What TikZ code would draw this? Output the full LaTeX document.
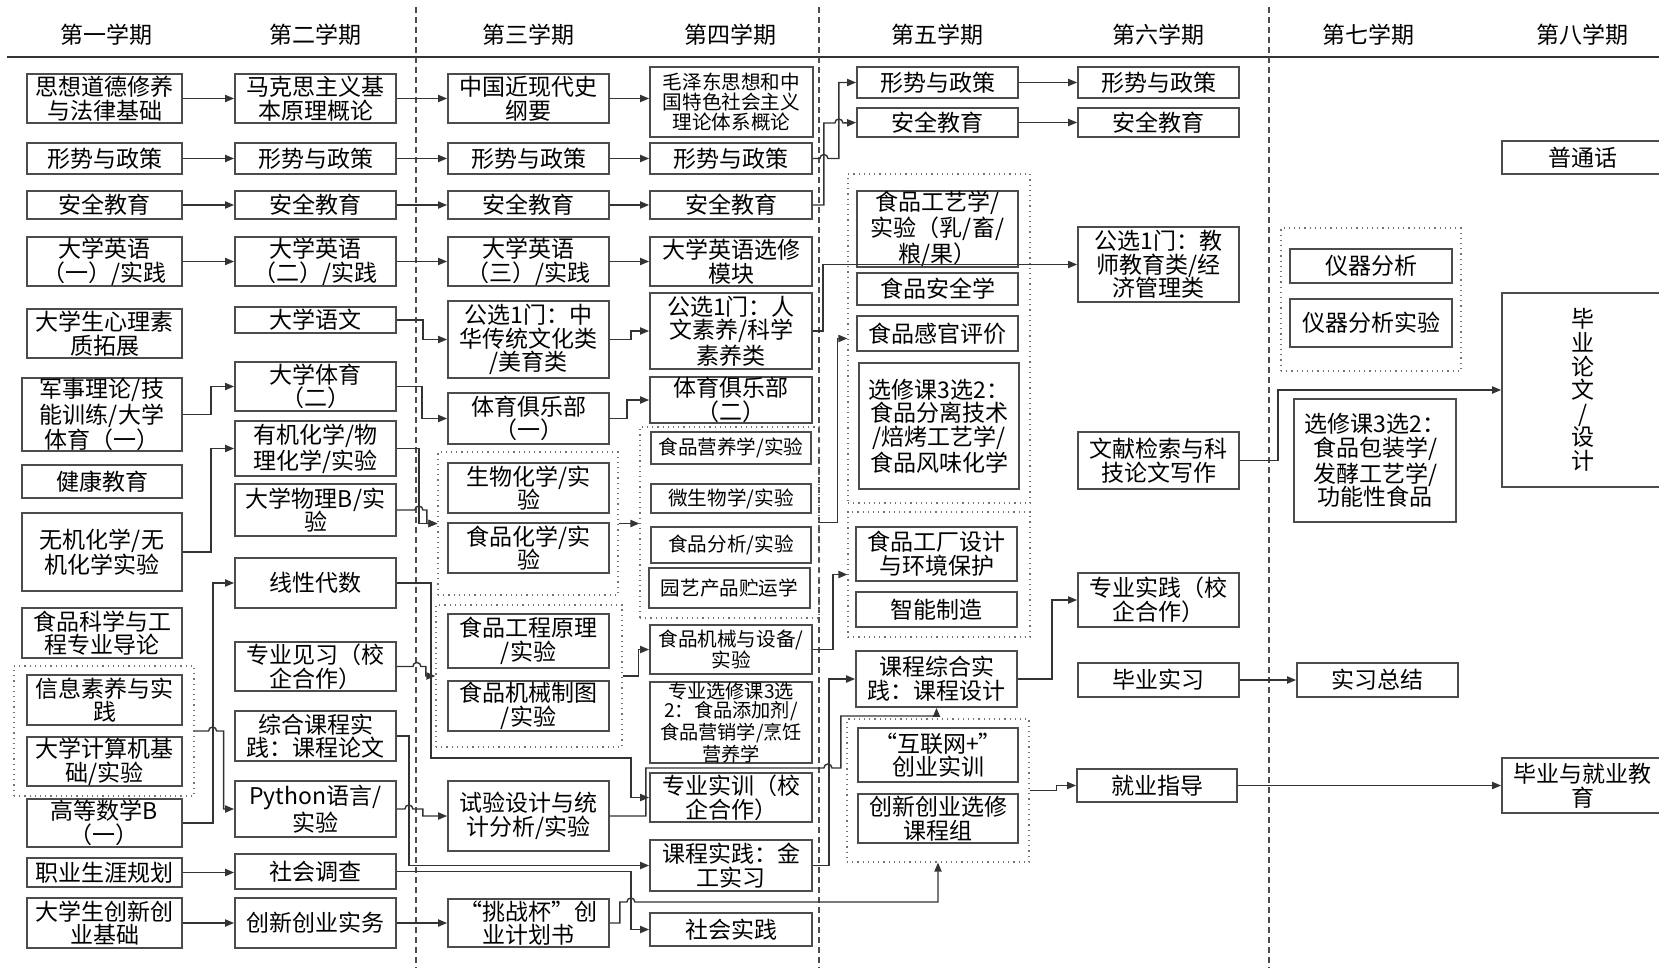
\documentclass[tikz,border=0pt]{standalone}
\usepackage{fontspec}
\setmainfont{Noto Sans CJK SC}
\usetikzlibrary{arrows.meta}
\tikzset{
 box/.style={draw=black!70, line width=0.9pt, inner sep=0pt, align=center, font=\fontsize{11.5}{11.8}\selectfont},
 sm/.style={font=\fontsize{9.8}{10.2}\selectfont},
 xs/.style={font=\fontsize{9.6}{9.7}\selectfont},
 grp/.style={draw=black!55, dotted, line width=0.6pt, inner sep=0pt},
 conn/.style={draw=black!80, line width=0.7pt},
 arr/.style={conn, -{Triangle[length=4.5pt,width=3.6pt]}},
 sepline/.style={draw=black!70, line width=0.6pt, dash pattern=on 3pt off 2pt},
 head/.style={font=\fontsize{11.5}{12}\selectfont},
}
\newcommand\bx[7][]{%
 \pgfmathsetmacro\bxcx{(#3+#5)/2}\pgfmathsetmacro\bxcy{(#4+#6)/2}%
 \pgfmathsetmacro\bxw{(#5-#3)*0.5}\pgfmathsetmacro\bxh{(#6-#4)*0.5}%
 \node[box,#1,minimum width=\bxw pt,minimum height=\bxh pt] (#2) at (\bxcx,\bxcy) {#7};}
\newcommand\gp[5]{%
 \pgfmathsetmacro\bxcx{(#2+#4)/2}\pgfmathsetmacro\bxcy{(#3+#5)/2}%
 \pgfmathsetmacro\bxw{(#4-#2)*0.5}\pgfmathsetmacro\bxh{(#5-#3)*0.5}%
 \node[grp,minimum width=\bxw pt,minimum height=\bxh pt] (#1) at (\bxcx,\bxcy) {};}
\begin{document}
\begin{tikzpicture}[x=0.5pt,y=-0.5pt]
\useasboundingbox (0,0) rectangle (1659,968);
\clip (0,0) rectangle (1659,968);
% headers
\node[head] (t1) at (107,35) {第一学期};
\node[head] (t2) at (315,35) {第二学期};
\node[head] (t3) at (528,35) {第三学期};
\node[head] (t4) at (730,35) {第四学期};
\node[head] (t5) at (937,35) {第五学期};
\node[head] (t6) at (1158,35) {第六学期};
\node[head] (t7) at (1368,35) {第七学期};
\node[head] (t8) at (1582,35) {第八学期};
\draw[conn] (7,57) -- (1659,57);
\draw[sepline] (416,7) -- (416,968);
\draw[sepline] (819,7) -- (819,968);
\draw[sepline] (1269,7) -- (1269,968);
% groups
\gp{ga}{14}{666}{194}{796}
\gp{gc1}{438}{452}{618}{595}
\gp{gc2}{436}{605}{622}{747}
\gp{gd}{640}{427}{819}{618}
\gp{ge1}{848}{174}{1030}{503}
\gp{ge2}{848}{512}{1030}{637}
\gp{ge3}{847}{719}{1029}{862}
\gp{gg}{1281}{228}{1461}{371}
% column 1
\bx{a1}{27}{74}{182}{123}{思想道德修养\\与法律基础}
\bx{a2}{27}{143}{182}{174}{形势与政策}
\bx{a3}{27}{191}{182}{219}{安全教育}
\bx{a4}{27}{237}{182}{286}{大学英语\\（一）/实践}
\bx{a5}{27}{309}{182}{358}{大学生心理素\\质拓展}
\bx{a6}{22}{378}{182}{451}{军事理论/技\\能训练/大学\\体育（一）}
\bx{a7}{22}{465}{182}{498}{健康教育}
\bx{a8}{22}{513}{182}{591}{无机化学/无\\机化学实验}
\bx{a9}{22}{608}{182}{658}{食品科学与工\\程专业导论}
\bx{a10}{27}{675}{182}{725}{信息素养与实\\践}
\bx{a11}{27}{737}{182}{786}{大学计算机基\\础/实验}
\bx{a12}{27}{799}{182}{847}{高等数学B\\（一）}
\bx{a13}{27}{858}{182}{887}{职业生涯规划}
\bx{a14}{27}{898}{182}{948}{大学生创新创\\业基础}
% column 2
\bx{b1}{235}{74}{396}{123}{马克思主义基\\本原理概论}
\bx{b2}{235}{143}{396}{174}{形势与政策}
\bx{b3}{235}{191}{396}{219}{安全教育}
\bx{b4}{235}{237}{396}{286}{大学英语\\（二）/实践}
\bx{b5}{235}{307}{396}{333}{大学语文}
\bx{b6}{235}{362}{396}{411}{大学体育\\（二）}
\bx{b7}{235}{421}{396}{476}{有机化学/物\\理化学/实验}
\bx{b8}{235}{484}{396}{536}{大学物理B/实\\验}
\bx{b9}{235}{558}{396}{608}{线性代数}
\bx{b10}{235}{642}{396}{691}{专业见习（校\\企合作）}
\bx{b11}{235}{711}{396}{761}{综合课程实\\践：课程论文}
\bx{b12}{235}{781}{396}{837}{Python语言/\\实验}
\bx{b13}{235}{854}{396}{889}{社会调查}
\bx{b14}{235}{898}{396}{948}{创新创业实务}
% column 3
\bx{c1}{448}{74}{609}{123}{中国近现代史\\纲要}
\bx{c2}{448}{143}{609}{174}{形势与政策}
\bx{c3}{448}{191}{609}{219}{安全教育}
\bx{c4}{448}{237}{609}{286}{大学英语\\（三）/实践}
\bx{c5}{448}{301}{609}{378}{公选1门：中\\华传统文化类\\/美育类}
\bx{c6}{448}{393}{609}{444}{体育俱乐部\\（一）}
\bx{c7}{448}{463}{609}{513}{生物化学/实\\验}
\bx{c8}{448}{523}{609}{573}{食品化学/实\\验}
\bx{c9}{448}{614}{609}{668}{食品工程原理\\/实验}
\bx{c10}{448}{681}{609}{731}{食品机械制图\\/实验}
\bx{c11}{448}{781}{609}{851}{试验设计与统\\计分析/实验}
\bx{c12}{448}{899}{609}{947}{“挑战杯”创\\业计划书}
% column 4
\bx[sm]{d1}{650}{67}{813}{137}{毛泽东思想和中\\国特色社会主义\\理论体系概论}
\bx{d2}{650}{143}{812}{174}{形势与政策}
\bx{d3}{650}{191}{812}{219}{安全教育}
\bx{d4}{650}{237}{812}{286}{大学英语选修\\模块}
\bx{d5}{650}{293}{812}{369}{公选1门：人\\文素养/科学\\素养类}
\bx{d6}{650}{377}{812}{423}{体育俱乐部\\（二）}
\bx[sm]{d7}{651}{432}{811}{464}{食品营养学/实验}
\bx[sm]{d8}{651}{484}{811}{513}{微生物学/实验}
\bx[sm]{d9}{651}{527}{811}{563}{食品分析/实验}
\bx[sm]{d10}{649}{568}{810}{608}{园艺产品贮运学}
\bx[sm]{d11}{650}{625}{812}{674}{食品机械与设备/\\实验}
\bx[xs]{d12}{650}{682}{812}{763}{专业选修课3选\\2：食品添加剂/\\食品营销学/烹饪\\营养学}
\bx{d13}{650}{773}{812}{822}{专业实训（校\\企合作）}
\bx{d14}{650}{840}{812}{891}{课程实践：金\\工实习}
\bx{d15}{650}{913}{812}{946}{社会实践}
% column 5
\bx{e1}{857}{67}{1018}{98}{形势与政策}
\bx{e2}{857}{108}{1018}{137}{安全教育}
\bx{e3}{857}{191}{1018}{267}{食品工艺学/\\实验（乳/畜/\\粮/果）}
\bx{e4}{857}{273}{1018}{305}{食品安全学}
\bx{e5}{857}{316}{1018}{351}{食品感官评价}
\bx{e6}{859}{363}{1019}{489}{选修课3选2：\\食品分离技术\\/焙烤工艺学/\\食品风味化学}
\bx{e7}{856}{527}{1017}{581}{食品工厂设计\\与环境保护}
\bx{e8}{856}{592}{1017}{627}{智能制造}
\bx{e9}{856}{651}{1017}{707}{课程综合实\\践：课程设计}
\bx{e10}{858}{728}{1018}{782}{“互联网+”\\创业实训}
\bx{e11}{858}{794}{1018}{843}{创新创业选修\\课程组}
% column 6
\bx{f1}{1078}{67}{1239}{98}{形势与政策}
\bx{f2}{1078}{108}{1239}{137}{安全教育}
\bx{f3}{1078}{227}{1239}{302}{公选1门：教\\师教育类/经\\济管理类}
\bx{f4}{1078}{432}{1239}{489}{文献检索与科\\技论文写作}
\bx{f5}{1078}{573}{1239}{627}{专业实践（校\\企合作）}
\bx{f6}{1078}{663}{1239}{697}{毕业实习}
\bx{f7}{1077}{769}{1237}{802}{就业指导}
% column 7
\bx{g1}{1290}{249}{1452}{283}{仪器分析}
\bx{g2}{1290}{299}{1452}{347}{仪器分析实验}
\bx{g3}{1294}{399}{1456}{522}{选修课3选2：\\食品包装学/\\发酵工艺学/\\功能性食品}
\bx{g4}{1297}{663}{1458}{697}{实习总结}
% column 8
\bx{h1}{1502}{141}{1663}{174}{普通话}
\bx{h2}{1502}{293}{1663}{487}{毕\\业\\论\\文\\/\\设\\计}
\bx{h3}{1502}{758}{1663}{813}{毕业与就业教\\育}
% connectors col1 -> col2
\draw[arr] (a1.east) -- (b1.west);
\draw[arr] (a2.east) -- (b2.west);
\draw[arr] (a3.east) -- (b3.west);
\draw[arr] (a4.east) -- (b4.west);
\draw[arr] (a6.east) -- ++(28,0) |- (b6.west);
\draw[arr] (a8.east) -- ++(28,0) |- (b7.west);
\draw[arr] (a12.east) -- ++(30,0) |- (b9.west);
\draw[arr] (ga.east) -- ++(14,0) arc[start angle=180,end angle=360,radius=4] -- ++(7,0) |- (b12.west);
\draw[arr] (a13.east) -- (a13.east -| b13.west);
\draw[arr] (a14.east) -- (b14.west);
% col2 -> col3
\draw[arr] (b1.east) -- (c1.west);
\draw[arr] (b2.east) -- (c2.west);
\draw[arr] (b3.east) -- (c3.west);
\draw[arr] (b4.east) -- (c4.west);
\draw[arr] (b5.east) -- ++(26,0) |- (c5.west);
\draw[arr] (b6.east) -- ++(25,0) |- (c6.west);
\draw[arr] (b7.east) -- ++(22,0) |- (gc1.west);
\draw[arr] (b8.east) -- ++(18,0) arc[start angle=180,end angle=360,radius=4] -- ++(4,0) |- (gc1.west);
\draw[arr] (b9.east) -- ++(34,0) -- ++(0,175) -- ++(200,0) |- (d13.west);
\draw[arr] (b10.east) -- ++(16,0) arc[start angle=180,end angle=360,radius=4] -- ++(5,0) |- (gc2.west);
\draw[arr] (b11.east) -- ++(12,0) |- (d14.west);
\draw[arr] (b12.east) -- ++(8,0) arc[start angle=180,end angle=360,radius=4] -- ++(10,0) |- (c11.west);
\draw[arr] (b13.east) -- ++(234,0) |- (d15.west);
\draw[arr] (b14.east) -- (c12.west);
% col3 -> col4
\draw[arr] (c1.east) -- (c1.east -| d1.west);
\draw[arr] (c2.east) -- (d2.west);
\draw[arr] (c3.east) -- (d3.west);
\draw[arr] (c4.east) -- (d4.west);
\draw[arr] (c5.east) -- ++(21,0) |- (d5.west);
\draw[arr] (c6.east) -- ++(17,0) |- (d6.west);
\draw[arr] (gc1.east) -- (gc1.east -| gd.west);
\draw[arr] (gc2.east) -- ++(16,0) |- (d11.west);
\draw[arr] (c11.east) -- ++(36,0) -- ++(0,-48) -- ++(178,0) arc[start angle=180,end angle=360,radius=4] -- ++(9,0) -- ++(0,-52) -| (e9.south);
\draw[arr] (c12.east) -- ++(10,0) -- ++(0,-21) -- ++(7,0) arc[start angle=180,end angle=360,radius=4] -| (ge3.south);
% col4 -> col5/6
\draw[arr] (d2.east) -- ++(7,0) arc[start angle=180,end angle=360,radius=4] -- ++(11,0) |- (e1.west);
\draw[arr] (d3.east) -- ++(11,0) -- ++(0,-82) -- ++(11,0) arc[start angle=180,end angle=360,radius=4] -- (e2.west);
\draw[arr] (d5.east) -- ++(10,0) |- (f3.west);
\draw[arr] (gd.east) -- ++(18,0) |- (ge1.west);
\draw[arr] (d11.east) -- ++(20,0) |- (ge2.west);
\draw[arr] (d14.east) -- ++(16,0) |- (e9.west);
% col5 -> col6
\draw[arr] (e1.east) -- (f1.west);
\draw[arr] (e2.east) -- (f2.west);
\draw[arr] (e9.east) -- ++(34,0) |- (f5.west);
\draw[arr] (ge3.east) -- ++(27,0) |- (f7.west);
% col6 -> col7/8
\draw[arr] (f4.east) -- ++(38,0) |- (h2.west);
\draw[arr] (f6.east) -- (g4.west);
\draw[arr] (f7.east) -- (h3.west);
\end{tikzpicture}
\end{document}
